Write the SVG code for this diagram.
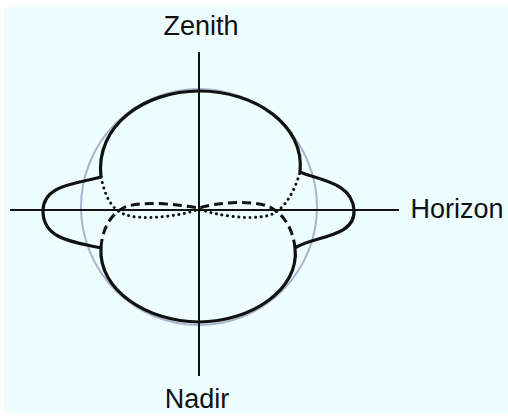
<svg xmlns="http://www.w3.org/2000/svg" width="508" height="418" viewBox="0 0 508 418">
<style>
.lbl{font-family:"Liberation Sans",Arial,sans-serif;font-size:27px;fill:#111;text-anchor:middle}
.axis{stroke:#111;stroke-width:2;fill:none}
.solid{stroke:#111;stroke-width:3.2;fill:none;stroke-linejoin:round}
.dot{stroke:#111;stroke-width:3;fill:none;stroke-dasharray:0.1 5.5;stroke-linecap:round}
.dash{stroke:#111;stroke-width:3;fill:none;stroke-dasharray:9 5}
</style>
<rect x="0" y="0" width="508" height="418" fill="#ffffff"/>
<rect x="4" y="7" width="504" height="406" fill="#eefdff"/>
<g id="reference-circle">
<circle cx="199" cy="207" r="118" fill="none" stroke="#aab4cc" stroke-width="2"/>
</g>
<g id="axes">
<line class="axis" x1="199" y1="52" x2="199" y2="376"/>
<line class="axis" x1="10" y1="210" x2="399" y2="210"/>
</g>
<g id="pattern">
<path class="solid" d="M101,177 C95,125 145,91 199,91 C255,91 305,125 300,172 C318,180 352,182 354,210 C356,238 312,236 295,248 C300,290 250,322 199,322 C148,322 98,290 101,248 C75,242 43,240 43,211 C43,185 75,184 101,177 Z"/>
<path class="dot" d="M101,177 C106,200 113,212 130,216 C150,220 185,215 199,209 C215,215 250,221 270,215 C285,210 295,190 300,172"/>
<path class="dash" d="M101,248 C102,230 110,214 125,207 C145,200 180,205 199,208 C215,203 250,199 270,207 C285,215 293,230 295,248"/>
</g>
<g id="zenith"><text class="lbl" x="201" y="35">Zenith</text></g>
<g id="horizon"><text class="lbl" x="457" y="218">Horizon</text></g>
<g id="nadir"><text class="lbl" x="197" y="408">Nadir</text></g>
</svg>
